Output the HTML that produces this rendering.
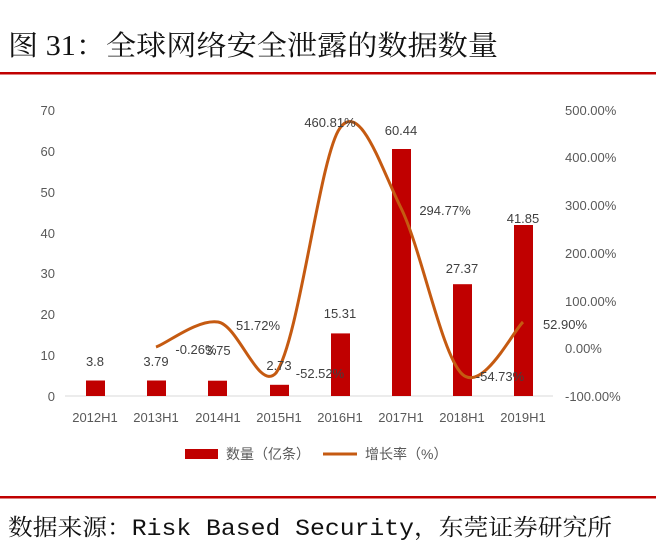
<!DOCTYPE html>
<html><head><meta charset="utf-8"><style>
html,body{margin:0;padding:0;background:#fff;width:656px;height:556px;overflow:hidden}
</style></head><body>
<svg width="656" height="556" xmlns="http://www.w3.org/2000/svg" font-family="Liberation Sans, Noto Sans CJK SC, sans-serif">
<text x="8" y="55" font-size="28" font-family="Liberation Serif, Noto Serif CJK SC, serif" fill="#111" textLength="490" lengthAdjust="spacingAndGlyphs">图 31：全球网络安全泄露的数据数量</text>
<rect x="0" y="72" width="656" height="2.5" fill="#c00000"/>
<g font-size="13" fill="#595959">
<text x="55" y="115" text-anchor="end">70</text>
<text x="55" y="156" text-anchor="end">60</text>
<text x="55" y="197" text-anchor="end">50</text>
<text x="55" y="238" text-anchor="end">40</text>
<text x="55" y="278" text-anchor="end">30</text>
<text x="55" y="319" text-anchor="end">20</text>
<text x="55" y="360" text-anchor="end">10</text>
<text x="55" y="401" text-anchor="end">0</text>
<text x="565" y="115">500.00%</text>
<text x="565" y="162">400.00%</text>
<text x="565" y="210">300.00%</text>
<text x="565" y="258">200.00%</text>
<text x="565" y="306">100.00%</text>
<text x="565" y="353">0.00%</text>
<text x="565" y="401">-100.00%</text>
</g>
<line x1="65" y1="396" x2="553" y2="396" stroke="#d9d9d9" stroke-width="1"/>
<g fill="#c00000">
<rect x="86" y="380.5" width="19" height="15.5"/>
<rect x="147" y="380.5" width="19" height="15.5"/>
<rect x="208" y="380.7" width="19" height="15.3"/>
<rect x="270" y="384.8" width="19" height="11.2"/>
<rect x="331" y="333.4" width="19" height="62.6"/>
<rect x="392" y="149" width="19" height="247"/>
<rect x="453" y="284.2" width="19" height="111.8"/>
<rect x="514" y="225" width="19" height="171"/>
</g>
<path d="M156,347 C166.3,343.8 197.5,318.8 218,322 C238.5,325.2 258.7,392 276,373 C299.3,340.5 319.7,155.5 340,128 C360.3,100.5 380.7,167 401,208 C421.3,249 441.7,354.8 462,374 C482.3,393.2 512.8,331.5 523,322" fill="none" stroke="#c55a11" stroke-width="3"/>
<g font-size="13" fill="#404040" text-anchor="middle">
<text x="95" y="366">3.8</text>
<text x="156" y="366">3.79</text>
<text x="218" y="355">3.75</text>
<text x="279" y="370">2.73</text>
<text x="340" y="318">15.31</text>
<text x="401" y="135">60.44</text>
<text x="462" y="273">27.37</text>
<text x="523" y="223">41.85</text>
<text x="196" y="354">-0.26%</text>
<text x="258" y="330">51.72%</text>
<text x="320" y="378">-52.52%</text>
<text x="330" y="127">460.81%</text>
<text x="445" y="215">294.77%</text>
<text x="500" y="381">-54.73%</text>
<text x="565" y="329">52.90%</text>
</g>
<g font-size="13" fill="#595959" text-anchor="middle">
<text x="95" y="422">2012H1</text>
<text x="156" y="422">2013H1</text>
<text x="218" y="422">2014H1</text>
<text x="279" y="422">2015H1</text>
<text x="340" y="422">2016H1</text>
<text x="401" y="422">2017H1</text>
<text x="462" y="422">2018H1</text>
<text x="523" y="422">2019H1</text>
</g>
<rect x="185" y="449" width="33" height="10" fill="#c00000"/>
<text x="226" y="459" font-size="14" fill="#595959">数量（亿条）</text>
<line x1="323" y1="454" x2="357" y2="454" stroke="#c55a11" stroke-width="3"/>
<text x="365" y="459" font-size="14" fill="#595959">增长率（%）</text>
<rect x="0" y="496" width="656" height="2.5" fill="#c00000"/>
<text x="8" y="535" font-size="23" font-family="Liberation Mono, Noto Serif CJK SC, monospace" fill="#111" textLength="604" lengthAdjust="spacingAndGlyphs">数据来源：Risk Based Security，东莞证券研究所</text>
</svg>
</body></html>
